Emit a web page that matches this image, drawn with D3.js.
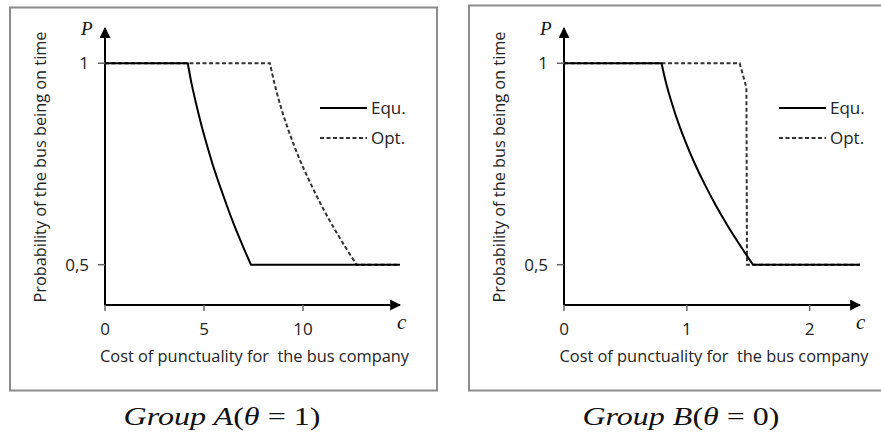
<!DOCTYPE html>
<html>
<head>
<meta charset="utf-8">
<script src="https://cdn.jsdelivr.net/npm/d3@7"></script>
<style>
  body { margin: 0; background: #fff; }
  svg { display: block; }
  .lbl { font-family: "Open Sans", sans-serif; fill: #222; white-space: pre; }
  .math { font-family: "Liberation Serif", "DejaVu Serif", serif; fill: #111; }
</style>
</head>
<body>
<svg id="chart" width="881" height="437"></svg>
<script>
// Group A (theta = 1): cost of punctuality vs probability of being on time
const groupA_equ_c = [0, 4.18, 4.37, 4.60, 4.85, 5.13, 5.43, 5.77, 6.13, 6.51, 6.93, 7.37, 14.9];
const groupA_equ_p = [1, 1, 0.95, 0.9, 0.85, 0.8, 0.75, 0.7, 0.65, 0.6, 0.55, 0.5, 0.5];
const groupA_opt_c = [0, 8.33, 8.56, 8.83, 9.15, 9.52, 9.93, 10.4, 10.9, 11.46, 12.06, 12.71, 14.9];
const groupA_opt_p = [1, 1, 0.95, 0.9, 0.85, 0.8, 0.75, 0.7, 0.65, 0.6, 0.55, 0.5, 0.5];
const groupA_ticks = [0, 5, 10];

// Group B (theta = 0)
const groupB_equ_c = [0, 0.794, 0.832, 0.879, 0.933, 0.996, 1.066, 1.145, 1.231, 1.326, 1.429, 1.539, 2.41];
const groupB_equ_p = [1, 1, 0.95, 0.9, 0.85, 0.8, 0.75, 0.7, 0.65, 0.6, 0.55, 0.5, 0.5];
const groupB_opt_c = [0, 1.43, 1.485, 1.49, 2.41];
const groupB_opt_p = [1, 1, 0.94, 0.5, 0.5];
const groupB_ticks = [0, 1, 2];

const yTicks = [1, 0.5];
const yTickLabels = ["1", "0,5"];
const seriesNames = ["Equ.", "Opt."];

const svg = d3.select("#chart");

// arrow marker for the axes
svg.append("defs").append("marker")
  .attr("id", "arrow")
  .attr("viewBox", "0 0 10 10")
  .attr("refX", 9).attr("refY", 5)
  .attr("markerWidth", 5.5).attr("markerHeight", 5.5)
  .attr("markerUnits", "strokeWidth")
  .attr("orient", "auto")
  .append("path").attr("d", "M0,0 L10,5 L0,10 z").attr("fill", "#000");

function zip(cs, ps) { return cs.map((c, i) => ({ c: c, p: ps[i] })); }

// flat start, smooth decline through the middle points, flat end
function seriesPath(pts, x, y, smooth) {
  const first = pts[0], last = pts[pts.length - 1];
  const mid = pts.slice(1, pts.length - 1);
  const gen = d3.line().x(d => x(d.c)).y(d => y(d.p))
    .curve(smooth ? d3.curveCatmullRom.alpha(0.5) : d3.curveLinear);
  return "M" + x(first.c) + "," + y(first.p) +
    "L" + gen(mid).slice(1) +
    "L" + x(last.c) + "," + y(last.p);
}

function panel(opt) {
  const g = svg.append("g");

  // gray frame
  g.append("rect")
    .attr("x", opt.frame[0]).attr("y", opt.frame[1])
    .attr("width", opt.frame[2]).attr("height", opt.frame[3])
    .attr("fill", "none").attr("stroke", "#8c8c8c").attr("stroke-width", 2);

  const x = d3.scaleLinear().domain(opt.xDomain).range([opt.x0, opt.x1]);
  const y = d3.scaleLinear().domain([0.4, 1.0875]).range([305, 28]);

  // axes with arrows
  g.append("line")
    .attr("x1", x(0)).attr("x2", x(opt.xDomain[1]))
    .attr("y1", y(0.4)).attr("y2", y(0.4))
    .attr("stroke", "#000").attr("stroke-width", 2)
    .attr("marker-end", "url(#arrow)");
  g.append("line")
    .attr("x1", x(0)).attr("x2", x(0))
    .attr("y1", y(0.4)).attr("y2", y(1.0875))
    .attr("stroke", "#000").attr("stroke-width", 2)
    .attr("marker-end", "url(#arrow)");

  // x ticks
  const xt = g.selectAll(".xt").data(opt.ticks).enter().append("g");
  xt.append("line")
    .attr("x1", d => x(d)).attr("x2", d => x(d))
    .attr("y1", y(0.4)).attr("y2", y(0.4) + 6)
    .attr("stroke", "#666").attr("stroke-width", 1.5);
  xt.append("text").attr("class", "lbl")
    .attr("x", d => x(d)).attr("y", 335)
    .attr("text-anchor", "middle").attr("font-size", 17)
    .text(d => d);

  // y ticks
  const yt = g.selectAll(".yt").data(yTicks).enter().append("g");
  yt.append("line")
    .attr("x1", x(0) - 7).attr("x2", x(0))
    .attr("y1", d => y(d)).attr("y2", d => y(d))
    .attr("stroke", "#666").attr("stroke-width", 1.5);
  yt.append("text").attr("class", "lbl")
    .attr("x", x(0) - 16).attr("y", d => y(d) + 6)
    .attr("text-anchor", "end").attr("font-size", 17)
    .text((d, i) => yTickLabels[i]);

  // curves
  g.append("path")
    .attr("d", seriesPath(zip(opt.optC, opt.optP), x, y, opt.optSmooth))
    .attr("fill", "none")
    .attr("stroke", "#333").attr("stroke-width", 2)
    .attr("stroke-dasharray", "4,2.5");
  g.append("path")
    .attr("d", seriesPath(zip(opt.equC, opt.equP), x, y, true))
    .attr("fill", "none")
    .attr("stroke", "#000").attr("stroke-width", 2);

  // legend
  const lg = g.selectAll(".lg").data(seriesNames).enter().append("g")
    .attr("transform", (d, i) => `translate(${opt.legX},${108 + i * 30})`);
  lg.append("line")
    .attr("x1", 0).attr("x2", 47).attr("y1", 0).attr("y2", 0)
    .attr("stroke", (d, i) => i ? "#333" : "#000").attr("stroke-width", 2)
    .attr("stroke-dasharray", (d, i) => i ? "4,2.5" : null);
  lg.append("text").attr("class", "lbl")
    .attr("x", 51).attr("y", 6).attr("font-size", 17)
    .text(d => d);

  // axis names
  g.append("text").attr("class", "math")
    .attr("x", x(0) - 24).attr("y", 35)
    .attr("font-style", "italic").attr("font-size", 19)
    .text("P");
  g.append("text").attr("class", "math")
    .attr("x", opt.cX).attr("y", 329)
    .attr("font-style", "italic").attr("font-size", 21)
    .text("c");

  g.append("text").attr("class", "lbl")
    .attr("x", (opt.x0 + opt.x1) / 2 + 2).attr("y", 362)
    .attr("text-anchor", "middle").attr("font-size", 16.5)
    .attr("textLength", 309).attr("lengthAdjust", "spacingAndGlyphs")
    .text("Cost of punctuality for  the bus company");
  g.append("text").attr("class", "lbl")
    .attr("transform", `translate(${opt.x0 - 59},167) rotate(-90)`)
    .attr("text-anchor", "middle").attr("font-size", 16.5)
    .attr("textLength", 271).attr("lengthAdjust", "spacingAndGlyphs")
    .text("Probability of the bus being on time");

  // caption below the frame
  const cap = g.append("text").attr("class", "math")
    .attr("x", opt.capX).attr("y", 425)
    .attr("text-anchor", "middle").attr("font-size", 26)
    .attr("textLength", 197).attr("lengthAdjust", "spacingAndGlyphs");
  cap.append("tspan").attr("font-style", "italic").text("Group " + opt.group);
  cap.append("tspan").text("(");
  cap.append("tspan").attr("font-style", "italic").text("θ");
  cap.append("tspan").text(" = " + opt.theta + ")");
}

panel({
  frame: [10, 7.5, 427, 383], xDomain: [0, 14.9], x0: 105, x1: 400,
  ticks: groupA_ticks, equC: groupA_equ_c, equP: groupA_equ_p,
  optC: groupA_opt_c, optP: groupA_opt_p, optSmooth: true, legX: 320, cX: 397,
  capX: 222, group: "A", theta: 1
});
panel({
  frame: [469, 5.5, 420, 385], xDomain: [0, 2.41], x0: 564, x1: 860,
  ticks: groupB_ticks, equC: groupB_equ_c, equP: groupB_equ_p,
  optC: groupB_opt_c, optP: groupB_opt_p, optSmooth: false, legX: 779, cX: 856,
  capX: 681, group: "B", theta: 0
});
</script>
</body>
</html>
